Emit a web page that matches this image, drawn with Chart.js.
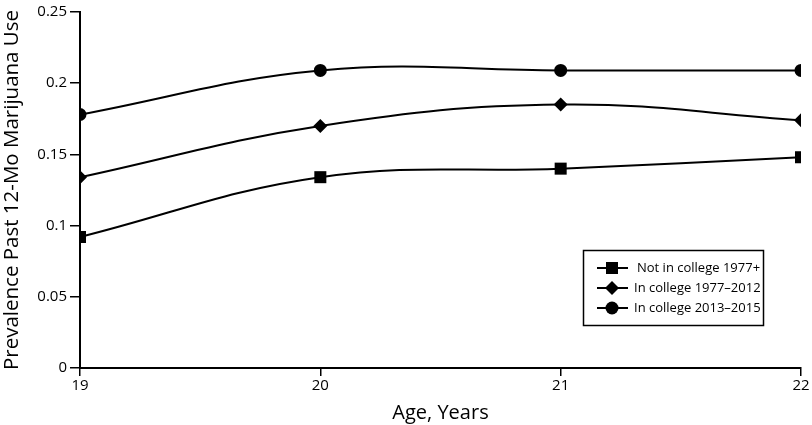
<!DOCTYPE html>
<html>
<head>
<meta charset="utf-8">
<script src="https://cdn.jsdelivr.net/npm/chart.js@4/dist/chart.umd.min.js"></script>
<style>
  html, body { margin: 0; padding: 0; background: #fff; }
  #wrap { width: 812px; height: 425px; }
</style>
</head>
<body>
<div id="wrap"><canvas id="chart" width="812" height="425"></canvas></div>
<script>
// values
var ages = [19, 20, 21, 22];
var notInCollege = [0.092, 0.134, 0.140, 0.148];
var inCollege7712 = [0.134, 0.170, 0.185, 0.174];
var inCollege1315 = [0.178, 0.209, 0.209, 0.209];
var seriesLabels = ['Not in college 1977+', 'In college 1977\u20132012', 'In college 2013\u20132015'];
var yTicks = [0, 0.05, 0.1, 0.15, 0.2, 0.25];

var FONT = "'Open Sans', 'Noto Sans', sans-serif";

function toPoints(values) {
    return ages.map(function (a, i) { return { x: a, y: values[i] }; });
}

function makeSet(label, values, style, radius) {
    return {
        label: label,
        data: toPoints(values),
        borderColor: '#000',
        backgroundColor: '#000',
        borderWidth: 2,
        pointStyle: style,
        pointRadius: radius,
        pointHoverRadius: radius,
        pointBorderWidth: 0,
        tension: 0.4,
        fill: false
    };
}

// legend box drawn inside the plot, bottom right
var boxLegend = {
    id: 'boxLegend',
    afterDraw: function (chart) {
        var ctx = chart.ctx;
        var x0 = 583.5, y0 = 250.5, w = 180, h = 75;
        ctx.save();
        ctx.fillStyle = '#fff';
        ctx.fillRect(x0, y0, w, h);
        ctx.strokeStyle = '#000';
        ctx.lineWidth = 1.5;
        ctx.strokeRect(x0, y0, w, h);
        ctx.font = '13px ' + FONT;
        ctx.textBaseline = 'middle';
        chart.data.datasets.forEach(function (ds, i) {
            var cy = 268 + i * 20;
            ctx.strokeStyle = '#000';
            ctx.lineWidth = 2;
            ctx.beginPath();
            ctx.moveTo(597, cy);
            ctx.lineTo(628, cy);
            ctx.stroke();
            ctx.fillStyle = '#000';
            Chart.helpers.drawPoint(ctx, {
                pointStyle: ds.pointStyle,
                radius: ds.pointRadius,
                borderWidth: 0,
                rotation: 0
            }, 612, cy);
            ctx.fillStyle = '#000';
            ctx.fillText(ds.label, i === 0 ? 637 : 634, cy);
        });
        ctx.restore();
    }
};

var config = {
    type: 'line',
    data: {
        datasets: [
            makeSet(seriesLabels[0], notInCollege, 'rect', 8.5),
            makeSet(seriesLabels[1], inCollege7712, 'rectRot', 7),
            makeSet(seriesLabels[2], inCollege1315, 'circle', 6.5)
        ]
    },
    options: {
        responsive: false,
        animation: false,
        layout: { padding: { top: 11, right: 11, left: 0, bottom: 0 } },
        plugins: {
            legend: { display: false },
            tooltip: { enabled: false }
        },
        scales: {
            x: {
                type: 'linear',
                min: 19,
                max: 22,
                grid: { display: true, drawOnChartArea: false, drawTicks: true, tickLength: 8, color: '#000', lineWidth: 1.5 },
                border: { display: true, color: '#000', width: 2 },
                ticks: {
                    stepSize: 1,
                    color: '#000',
                    padding: 1,
                    font: { family: FONT, size: 15 },
                    callback: function (v) { return ages.indexOf(v) >= 0 ? String(v) : ''; }
                },
                title: {
                    display: true,
                    text: 'Age, Years',
                    color: '#000',
                    font: { family: FONT, size: 20 },
                    padding: { top: 2, bottom: 0 }
                },
                afterFit: function (scale) { scale.height = 57; }
            },
            y: {
                min: 0,
                max: 0.25,
                afterBuildTicks: function (scale) {
                    scale.ticks = yTicks.map(function (v) { return { value: v }; });
                },
                grid: { display: true, drawOnChartArea: false, drawTicks: true, tickLength: 10, color: '#000', lineWidth: 1.5 },
                border: { display: true, color: '#000', width: 2 },
                ticks: {
                    color: '#000',
                    padding: 3,
                    font: { family: FONT, size: 15 },
                    callback: function (v) { return String(Math.round(v * 100) / 100); }
                },
                title: {
                    display: true,
                    text: 'Prevalence Past 12-Mo Marijuana Use',
                    color: '#000',
                    font: { family: FONT, size: 20.5 },
                    padding: { top: 0, bottom: 2 }
                },
                afterFit: function (scale) { scale.width = 80; }
            }
        }
    },
    plugins: [boxLegend]
};

var ctx = document.getElementById('chart').getContext('2d');
window.myChart = new Chart(ctx, config);
</script>
</body>
</html>
